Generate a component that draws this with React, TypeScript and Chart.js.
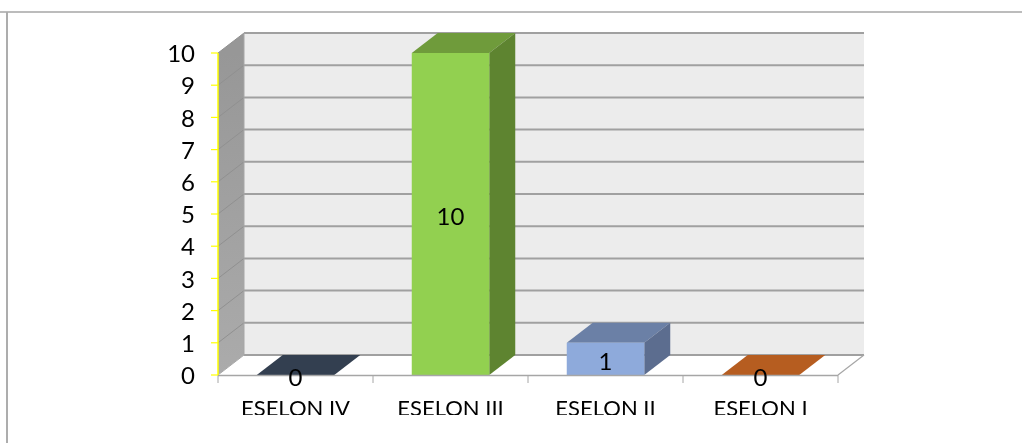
import React, { useEffect, useRef } from "react";
import { Chart, registerables } from "chart.js";

Chart.register(...registerables);

const categories = ["ESELON IV", "ESELON III", "ESELON II", "ESELON I"];
const values = [0, 10, 1, 0];
const yTicks = [0, 1, 2, 3, 4, 5, 6, 7, 8, 9, 10];
const frontColors = ["#44546A", "#92D050", "#8EAADB", "#C55A11"];
const topColors = ["#333F50", "#6F9B3B", "#6B80A6", "#B65D20"];
const sideColors = ["#2B3543", "#5E8430", "#5C6D8F", "#8F4A1A"];

const DX = 26;
const DY = -20;
const FONT = "Lato, Carlito, sans-serif";

const poly = (ctx: CanvasRenderingContext2D, pts: number[][], fill?: any) => {
  ctx.beginPath();
  pts.forEach((p, i) => (i ? ctx.lineTo(p[0], p[1]) : ctx.moveTo(p[0], p[1])));
  ctx.closePath();
  if (fill) {
    ctx.fillStyle = fill;
    ctx.fill();
  }
};

const line = (ctx: CanvasRenderingContext2D, x1: number, y1: number, x2: number, y2: number, color: string, w: number) => {
  ctx.strokeStyle = color;
  ctx.lineWidth = w;
  ctx.beginPath();
  ctx.moveTo(x1, y1);
  ctx.lineTo(x2, y2);
  ctx.stroke();
};

const frame3d = {
  id: "frame3d",
  beforeDatasetsDraw(chart: any) {
    const { ctx, chartArea: a, scales } = chart;
    const y = scales.y;
    const { left: l, right: r, bottom: b, top: t } = a;
    ctx.save();
    // outer frame
    line(ctx, 0, 12, chart.width, 12, "#A6A6A6", 1.5);
    line(ctx, 7, 12, 7, chart.height, "#ADADAD", 2);
    // walls
    poly(ctx, [[l + DX, t + DY], [r + DX, t + DY], [r + DX, b + DY], [l + DX, b + DY]], "#ECECEC");
    const g = ctx.createLinearGradient(0, t, 0, b);
    g.addColorStop(0, "#979797");
    g.addColorStop(1, "#ABABAB");
    poly(ctx, [[l, t], [l + DX, t + DY], [l + DX, b + DY], [l, b]], g);
    // floor
    poly(ctx, [[l, b], [l + DX, b + DY], [r + DX, b + DY], [r, b]], "#FFFFFF");
    // gridlines on both walls
    yTicks.forEach((v) => {
      const py = y.getPixelForValue(v);
      line(ctx, l + DX, py + DY, r + DX, py + DY, "#A0A0A0", 2);
      line(ctx, l, py, l + DX, py + DY, v === 0 ? "#A6A6A6" : "#909090", 1);
    });
    line(ctx, l + DX, t + DY, l + DX, b + DY, "#A6A6A6", 1);
    line(ctx, r, b, r + DX, b + DY, "#A6A6A6", 1.2);
    // bar top and side faces
    chart.getDatasetMeta(0).data.forEach((bar: any, i: number) => {
      const x0 = bar.x - bar.width / 2;
      const x1 = bar.x + bar.width / 2;
      const top = bar.y;
      const base = bar.base;
      poly(ctx, [[x0, top], [x0 + DX, top + DY], [x1 + DX, top + DY], [x1, top]], topColors[i]);
      if (base > top) {
        poly(ctx, [[x1, top], [x1 + DX, top + DY], [x1 + DX, base + DY], [x1, base]], sideColors[i]);
      }
    });
    ctx.restore();
  },
  afterDatasetsDraw(chart: any) {
    const { ctx, chartArea: a, scales } = chart;
    const y = scales.y;
    ctx.save();
    // axes
    line(ctx, a.left, a.bottom + 0.5, a.right, a.bottom + 0.5, "#A6A6A6", 1.5);
    for (let i = 0; i <= categories.length; i++) {
      const px = a.left + (i * (a.right - a.left)) / categories.length;
      line(ctx, px, a.bottom, px, a.bottom + 8, "#A6A6A6", 1);
    }
    line(ctx, a.left, a.top, a.left, a.bottom, "#FFFF00", 1.5);
    yTicks.forEach((v) => {
      const py = y.getPixelForValue(v);
      line(ctx, a.left - 7, py, a.left, py, "#FFFF00", 1.2);
    });
    // value labels
    ctx.fillStyle = "#000000";
    ctx.font = `24px ${FONT}`;
    ctx.textAlign = "center";
    ctx.textBaseline = "middle";
    chart.getDatasetMeta(0).data.forEach((bar: any, i: number) => {
      ctx.fillText(String(values[i]), bar.x, (bar.y + bar.base) / 2 + 3);
    });
    ctx.restore();
  },
};

export default function App() {
  const ref = useRef<HTMLCanvasElement>(null);
  useEffect(() => {
    const chart = new Chart(ref.current as HTMLCanvasElement, {
      type: "bar",
      data: {
        labels: categories,
        datasets: [
          {
            data: values,
            backgroundColor: frontColors,
            borderWidth: 0,
            barPercentage: 0.5,
            categoryPercentage: 1,
          },
        ],
      },
      plugins: [frame3d],
      options: {
        responsive: false,
        animation: false,
        devicePixelRatio: 1,
        layout: { padding: { left: 160, right: 184, top: 53, bottom: 28 } },
        plugins: { legend: { display: false }, tooltip: { enabled: false } },
        scales: {
          x: {
            grid: { display: false },
            border: { display: false },
            afterFit: (s: any) => { s.height = 40; },
            ticks: { color: "#000000", font: { family: FONT, size: 22 }, padding: 13, maxRotation: 0 },
          },
          y: {
            min: 0,
            max: 10,
            grid: { display: false },
            border: { display: false },
            afterFit: (s: any) => { s.width = 58; },
            ticks: { stepSize: 1, color: "#000000", font: { family: FONT, size: 24 }, padding: 15, labelOffset: 1.5 },
          },
        },
      },
    } as any);
    return () => chart.destroy();
  }, []);
  return (
    <div style={{ position: "fixed", left: 0, top: 0, width: 1022, height: 443, overflow: "hidden", background: "#fff" }}>
      <canvas ref={ref} width={1022} height={443} style={{ display: "block" }} />
    </div>
  );
}
